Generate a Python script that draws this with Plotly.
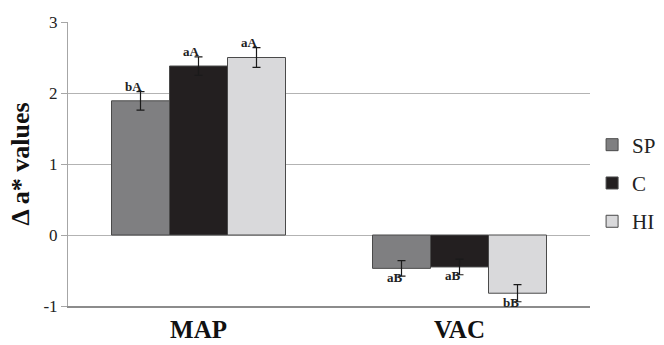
import plotly.graph_objects as go

# Storage conditions on the x axis, treatments as series
categories = ["MAP", "VAC"]
series = ["SP", "C", "HI"]
values = {
    "SP": [1.89, -0.47],
    "C": [2.38, -0.45],
    "HI": [2.50, -0.82],
}
errors = {
    "SP": [0.13, 0.11],
    "C": [0.13, 0.11],
    "HI": [0.14, 0.12],
}
letters = {
    "SP": ["bA", "aB"],
    "C": ["aA", "aB"],
    "HI": ["aA", "bB"],
}
y_ticks = [-1, 0, 1, 2, 3]
y_ticklabels = ["-1", "0", "1", "2", "3"]
colors = {"SP": "#7f7f81", "C": "#231f20", "HI": "#d9d9db"}

SERIF = "Liberation Serif"
BARGAP = 1 / 3
bar_w = (1 - BARGAP) / len(series)

fig = go.Figure()
for s in series:
    fig.add_trace(go.Bar(
        name=s,
        x=categories,
        y=values[s],
        legendgroup=s,
        marker=dict(color=colors[s], line=dict(color="#4a4a4a", width=1)),
        error_y=dict(type="data", array=errors[s], color="#1a1a1a",
                     thickness=1.2, width=4),
    ))

# Significance letters beside the error-bar caps
annotations = []
for j, s in enumerate(series):
    off = (j - (len(series) - 1) / 2) * bar_w
    for i, cat in enumerate(categories):
        v, e = values[s][i], errors[s][i]
        above = v >= 0
        annotations.append(dict(
            x=i + off, y=v + e if above else v - e,
            text="<b>" + letters[s][i] + "</b>", showarrow=False,
            xanchor="right", yanchor="bottom" if above else "middle",
            xshift=3, yshift=-4 if above else -1,
            font=dict(family=SERIF, size=13, color="#222"),
        ))

fig.update_layout(
    width=664, height=345,
    margin=dict(l=68, r=74, t=22, b=39, autoexpand=False),
    paper_bgcolor="white", plot_bgcolor="white",
    barmode="group", bargap=BARGAP, bargroupgap=0,
    font=dict(family=SERIF, color="#222"),
    showlegend=True,
    legend=dict(
        x=1.004, y=0.433, xanchor="left", yanchor="middle",
        font=dict(family=SERIF, size=21, color="#222"),
        itemwidth=30, tracegroupgap=8,
    ),
    annotations=annotations,
)
fig.update_xaxes(
    showgrid=False, zeroline=False,
    showline=True, linecolor="#8c8c8c", linewidth=1.5,
    ticks="", tickfont=dict(family=SERIF, size=25, color="#111"),
    tickprefix="<b>", ticksuffix="</b>",
)
fig.update_yaxes(
    range=[-1, 3], tickvals=y_ticks, ticktext=y_ticklabels,
    showgrid=True, gridcolor="#b3b3b3", gridwidth=1,
    zeroline=True, zerolinecolor="#b3b3b3", zerolinewidth=1,
    showline=True, linecolor="#a6a6a6", linewidth=1,
    ticks="outside", ticklen=6, tickcolor="#a6a6a6",
    tickfont=dict(family=SERIF, size=17, color="#222"),
    title=dict(text="<b>Δ a* values</b>",
               font=dict(family=SERIF, size=26, color="#111"), standoff=6),
)

fig.write_html("out.html")
